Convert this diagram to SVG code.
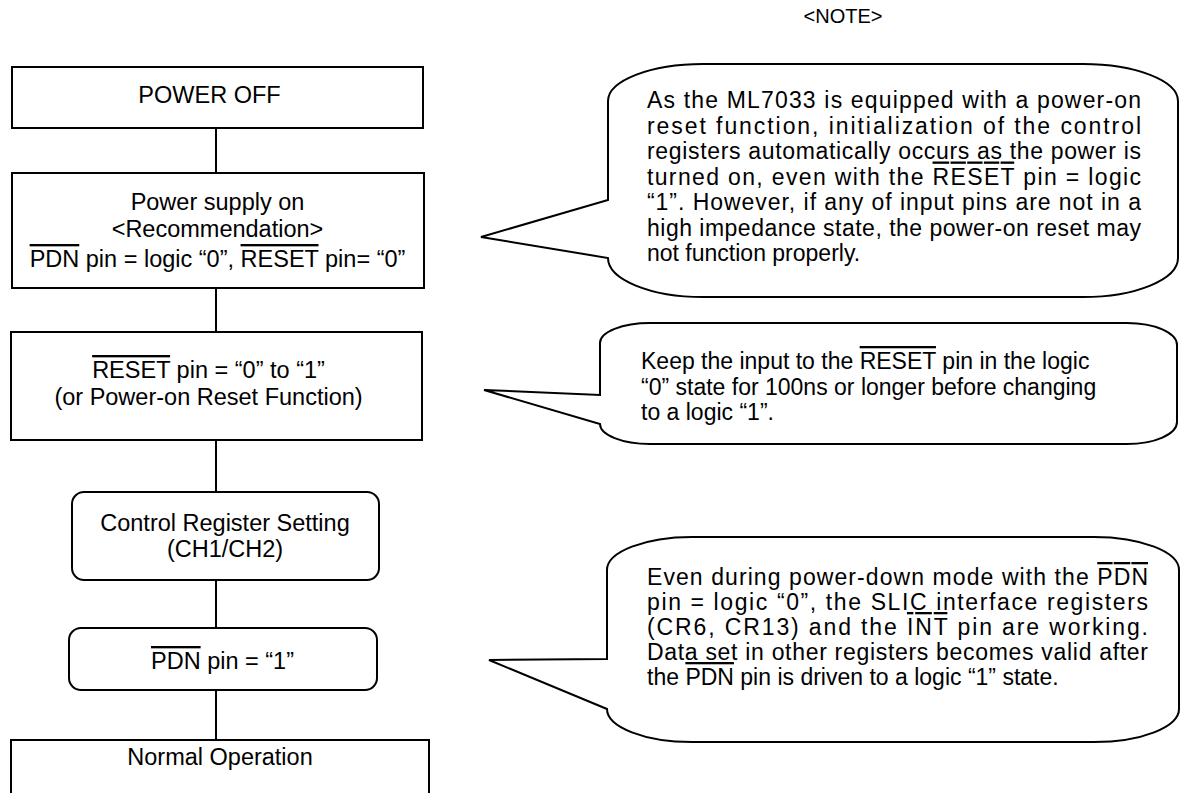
<svg xmlns="http://www.w3.org/2000/svg" width="1180" height="793" viewBox="0 0 1180 793">
<style>
.box{fill:#fff;stroke:#000;stroke-width:2}
.conn{stroke:#000;stroke-width:2;fill:none}
.call{fill:#fff;stroke:#000;stroke-width:2;stroke-linejoin:miter}
text{font-family:"Liberation Sans",Arial,sans-serif;fill:#000}
.ft{font-size:23.5px;text-anchor:middle}
.ct{font-size:23px}
.ov{text-decoration:overline}
</style>
<rect width="1180" height="793" fill="#fff"/>
<text id="note-title" x="843" y="23" font-size="20" text-anchor="middle">&lt;NOTE&gt;</text>

<g id="connectors">
<line class="conn" x1="216" y1="128" x2="216" y2="173"/>
<line class="conn" x1="216" y1="288" x2="216" y2="332"/>
<line class="conn" x1="216" y1="440" x2="216" y2="492"/>
<line class="conn" x1="216" y1="580" x2="216" y2="628"/>
<line class="conn" x1="216" y1="690" x2="216" y2="740"/>
</g>

<g id="n-power-off">
<rect class="box" x="12" y="67" width="411" height="61"/>
<text class="ft" x="209.5" y="103">POWER OFF</text>
</g>

<g id="n-power-on">
<rect class="box" x="12" y="173" width="412" height="115"/>
<text class="ft" x="217.5" y="210">Power supply on</text>
<text class="ft" x="217.5" y="237">&lt;Recommendation&gt;</text>
<text class="ft" x="217.5" y="267"><tspan class="ov">PDN</tspan> pin = logic “0”, <tspan class="ov">RESET</tspan> pin= “0”</text>
</g>

<g id="n-reset">
<rect class="box" x="11" y="332" width="411" height="108"/>
<text class="ft" x="208.5" y="378"><tspan class="ov">RESET</tspan> pin = “0” to “1”</text>
<text class="ft" x="208.5" y="405">(or Power-on Reset Function)</text>
</g>

<g id="n-ctrl">
<rect class="box" x="72" y="492" width="307" height="88" rx="12" ry="12"/>
<text class="ft" x="225" y="531">Control Register Setting</text>
<text class="ft" x="225" y="557">(CH1/CH2)</text>
</g>

<g id="n-pdn">
<rect class="box" x="69" y="628" width="308" height="62" rx="12" ry="12"/>
<text class="ft" x="222.5" y="669"><tspan class="ov">PDN</tspan> pin = “1”</text>
</g>

<g id="n-normal">
<rect class="box" x="11" y="740" width="418" height="70"/>
<text class="ft" x="220" y="765">Normal Operation</text>
</g>

<g id="note1">
<path class="call" d="M 608 101 A 95 37 0 0 1 703 64 L 1083 64 A 95 37 0 0 1 1178 101 L 1178 258 A 95 39 0 0 1 1083 297 L 703 297 A 95 39 0 0 1 608 258 L 481 237 L 608 200 Z"/>
<text class="ct" x="647" y="108" textLength="494" lengthAdjust="spacing">As the ML7033 is equipped with a power-on</text>
<text class="ct" x="647" y="133.5" textLength="494" lengthAdjust="spacing">reset function, initialization of the control</text>
<text class="ct" x="647" y="159" textLength="494" lengthAdjust="spacing">registers automatically occurs as the power is</text>
<text class="ct" x="647" y="184.5" textLength="494" lengthAdjust="spacing">turned on, even with the <tspan class="ov">RESET</tspan> pin = logic</text>
<text class="ct" x="647" y="210" textLength="494" lengthAdjust="spacing">“1”. However, if any of input pins are not in a</text>
<text class="ct" x="647" y="235.5" textLength="494" lengthAdjust="spacing">high impedance state, the power-on reset may</text>
<text class="ct" x="647" y="261">not function properly.</text>
</g>

<g id="note2">
<path class="call" d="M 600 343 A 50 20 0 0 1 650 323 L 1127 323 A 50 22 0 0 1 1177 345 L 1177 422 A 50 22 0 0 1 1127 444 L 650 444 A 50 20 0 0 1 600 424 L 484 390 L 600 395 Z"/>
<text class="ct" x="641" y="369">Keep the input to the <tspan class="ov">RESET</tspan> pin in the logic</text>
<text class="ct" x="641" y="394.5">“0” state for 100ns or longer before changing</text>
<text class="ct" x="641" y="420">to a logic “1”.</text>
</g>

<g id="note3">
<path class="call" d="M 607 570 A 85 33 0 0 1 692 537 L 1094 537 A 85 33 0 0 1 1179 570 L 1179 709 A 85 33 0 0 1 1094 742 L 692 742 A 85 33 0 0 1 607 709 L 489 660 L 607 659 Z"/>
<text class="ct" x="647" y="585" textLength="501" lengthAdjust="spacing">Even during power-down mode with the <tspan class="ov">PDN</tspan></text>
<text class="ct" x="647" y="610" textLength="501" lengthAdjust="spacing">pin = logic “0”, the SLIC interface registers</text>
<text class="ct" x="647" y="635" textLength="501" lengthAdjust="spacing">(CR6, CR13) and the <tspan class="ov">INT</tspan> pin are working.</text>
<text class="ct" x="647" y="660" textLength="501" lengthAdjust="spacing">Data set in other registers becomes valid after</text>
<text class="ct" x="647" y="685">the <tspan class="ov">PDN</tspan> pin is driven to a logic “1” state.</text>
</g>
</svg>
